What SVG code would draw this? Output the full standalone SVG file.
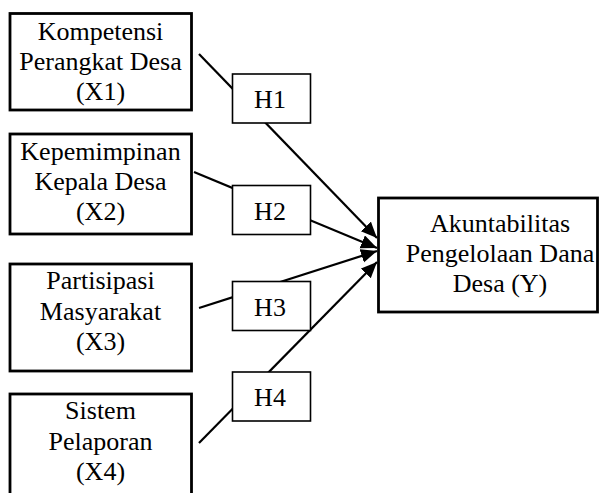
<svg xmlns="http://www.w3.org/2000/svg" width="599" height="493" viewBox="0 0 599 493">
<style>
.box{fill:#fff;stroke:#000;stroke-width:2.8}
.hbox{fill:#fff;stroke:#000;stroke-width:1.6}
.t{font-family:"Liberation Serif","Times New Roman",serif;font-size:26px;fill:#000;text-anchor:middle}
.edge{stroke:#000;stroke-width:2.2;fill:none;marker-end:url(#arr)}
</style>
<defs>
<marker id="arr" markerUnits="userSpaceOnUse" markerWidth="18" markerHeight="16" refX="16" refY="7" orient="auto">
<path d="M0,0 L16,7 L0,14 z" fill="#000"/>
</marker>
</defs>
<rect width="599" height="493" fill="#fff"/>
<g id="connectors">
<line class="edge" x1="199" y1="54" x2="377" y2="238"/>
<line class="edge" x1="194" y1="172" x2="377" y2="248"/>
<line class="edge" x1="199" y1="308" x2="377" y2="251"/>
<line class="edge" x1="199" y1="443" x2="377" y2="262"/>
</g>
<g id="X1">
<rect class="box" x="10" y="13.5" width="181.5" height="96.5"/>
<text class="t" x="100.5" y="40">Kompetensi</text>
<text class="t" x="100.5" y="70">Perangkat Desa</text>
<text class="t" x="100.5" y="100">(X1)</text>
</g>
<g id="X2">
<rect class="box" x="10" y="134" width="181.5" height="100"/>
<text class="t" x="100.5" y="160">Kepemimpinan</text>
<text class="t" x="100.5" y="190">Kepala Desa</text>
<text class="t" x="100.5" y="220">(X2)</text>
</g>
<g id="X3">
<rect class="box" x="10" y="264" width="181.5" height="107"/>
<text class="t" x="100.5" y="289">Partisipasi</text>
<text class="t" x="100.5" y="320">Masyarakat</text>
<text class="t" x="100.5" y="350">(X3)</text>
</g>
<g id="X4">
<rect class="box" x="10" y="394" width="181.5" height="110"/>
<text class="t" x="100.5" y="419">Sistem</text>
<text class="t" x="100.5" y="450">Pelaporan</text>
<text class="t" x="100.5" y="480">(X4)</text>
</g>
<g id="H1">
<rect class="hbox" x="232.5" y="74" width="78" height="49"/>
<text class="t" x="270" y="108">H1</text>
</g>
<g id="H2">
<rect class="hbox" x="232.5" y="185.5" width="78" height="49"/>
<text class="t" x="270" y="220">H2</text>
</g>
<g id="H3">
<rect class="hbox" x="232.5" y="281.5" width="78" height="49"/>
<text class="t" x="270" y="316">H3</text>
</g>
<g id="H4">
<rect class="hbox" x="232.5" y="372" width="78" height="49"/>
<text class="t" x="270" y="406">H4</text>
</g>
<g id="Y">
<rect class="box" x="378.5" y="198" width="219" height="114"/>
<text class="t" x="500" y="232">Akuntabilitas</text>
<text class="t" x="500" y="262">Pengelolaan Dana</text>
<text class="t" x="500" y="292">Desa (Y)</text>
</g>
</svg>
